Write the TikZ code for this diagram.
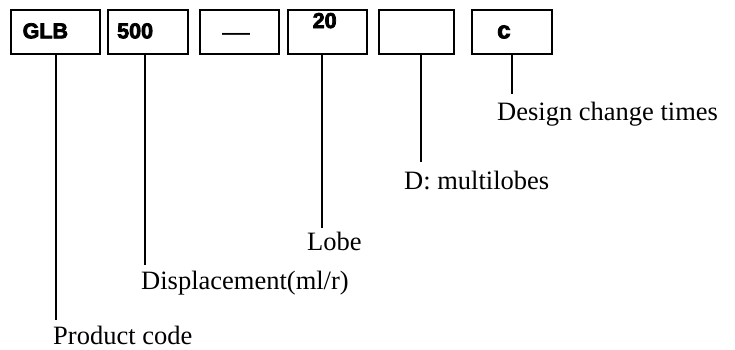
\documentclass[tikz,border=0pt]{standalone}
\usepackage{fontspec}
\setmainfont{Liberation Serif}
\newfontfamily\boxfont{Liberation Sans}
\newfontfamily\heavyfont[FakeBold=3.5]{Liberation Sans}
\begin{document}
\begin{tikzpicture}[x=1pt,y=-1pt,
  box/.style={draw=black, line width=1.6pt, inner sep=0pt, minimum height=44pt},
  code/.style={inner sep=0pt, anchor=base west, font=\heavyfont\bfseries\fontsize{21.5}{24}\selectfont},
  lbl/.style={inner sep=0pt, anchor=base west, font=\fontsize{26.5}{30}\selectfont},
  conn/.style={line width=1.5pt}]
\useasboundingbox (0,0) rectangle (735,349);
% boxes
\node[box, minimum width=89pt] (b1) at (55.5,32) {};
\node[box, minimum width=80pt] (b2) at (148,32) {};
\node[box, minimum width=79pt] (b3) at (239.5,32) {};
\node[box, minimum width=79pt] (b4) at (327.5,32) {};
\node[box, minimum width=75pt] (b5) at (416.5,32) {};
\node[box, minimum width=80pt] (b6) at (512,32) {};
% codes
\node[code] (t1) at (22.5,38.3) {GLB};
\node[code] (t2) at (117,38.3) {500};
\node[code, anchor=base, font=\boxfont\fontsize{28}{30}\selectfont] (t3) at (236,41) {—};
\node[code] (t4) at (312.5,28) {20};
\node[code, font=\heavyfont\bfseries\fontsize{24}{26}\selectfont] (t6) at (497,38.3) {c};
% labels
\node[lbl] (l1) at (53,344.5) {Product code};
\node[lbl] (l2) at (141,289) {Displacement(ml/r)};
\node[lbl] (l4) at (307,250.5) {Lobe};
\node[lbl] (l5) at (404,189.3) {D: multilobes};
\node[lbl] (l6) at (497,120.3) {Design change times};
% connector ends
\coordinate (e1) at (56,320);
\coordinate (e2) at (145,265);
\coordinate (e4) at (322,228);
\coordinate (e5) at (421,162);
\coordinate (e6) at (512,94);
% connectors
\draw[conn] (b1.south -| e1) -- (e1);
\draw[conn] (b2.south -| e2) -- (e2);
\draw[conn] (b4.south -| e4) -- (e4);
\draw[conn] (b5.south -| e5) -- (e5);
\draw[conn] (b6.south -| e6) -- (e6);
\end{tikzpicture}
\end{document}
